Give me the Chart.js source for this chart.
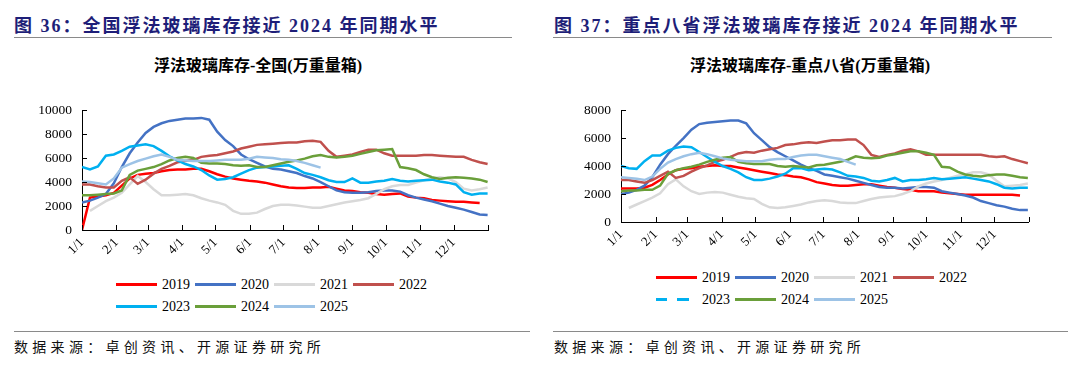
<!DOCTYPE html>
<html>
<head>
<meta charset="utf-8">
<script src="https://cdn.jsdelivr.net/npm/chart.js@4.4.1/dist/chart.umd.min.js"></script>
<style>
  html, body { margin: 0; padding: 0; background: #fff; }
  body { width: 1080px; height: 366px; position: relative; overflow: hidden; }
  .hd { position: absolute; top: 11px; font: bold 18px "Liberation Serif", "Noto Sans CJK SC", serif; color: #1e1e78; letter-spacing: 2px; white-space: nowrap; }
  .rule { position: absolute; height: 0; border-top: 1.5px solid #8a8a8a; }
  .ct { position: absolute; top: 52px; width: 420px; text-align: center; font: bold 16px "Liberation Serif", "Noto Sans CJK SC", serif; color: #000; white-space: nowrap; }
  .src { position: absolute; top: 336px; font: 14px "Noto Sans CJK SC", sans-serif; letter-spacing: 4.3px; color: #111; white-space: nowrap; }
  .box { position: absolute; top: 92px; }
  .legend { position: absolute; width: 330px; font: 14px "Liberation Serif", serif; color: #000; }
  .legend .item { position: absolute; height: 18px; line-height: 18px; }
  .legend .swatch { position: absolute; left: 0; top: 7px; width: 41px; height: 3px; }
  .legend .lab { position: absolute; left: 46px; top: 0; }
</style>
</head>
<body>
<div class="hd" style="left:14px">图 36：全国浮法玻璃库存接近 2024 年同期水平</div>
<div class="rule" style="left:14px;top:37px;width:498px"></div>
<div class="ct" style="left:48px">浮法玻璃库存-全国(万重量箱)</div>
<div class="box" style="left:0px"><canvas id="c36" width="505" height="175"></canvas></div>
<div class="legend" id="lg36" style="left:116px;top:276px"></div>
<div class="rule" style="left:14px;top:331px;width:516px"></div>
<div class="src" style="left:14px">数据来源：卓创资讯、开源证券研究所</div>

<div class="hd" style="left:554px">图 37：重点八省浮法玻璃库存接近 2024 年同期水平</div>
<div class="rule" style="left:553px;top:37px;width:499px"></div>
<div class="ct" style="left:600px">浮法玻璃库存-重点八省(万重量箱)</div>
<div class="box" style="left:540px"><canvas id="c37" width="505" height="175"></canvas></div>
<div class="legend" id="lg37" style="left:656px;top:269px"></div>
<div class="rule" style="left:553px;top:331px;width:515px"></div>
<div class="src" style="left:554px">数据来源：卓创资讯、开源证券研究所</div>

<script>
// weekly stock, 万重量箱, week 0 = first week of January
const years = ['2019', '2020', '2021', '2022', '2023', '2024', '2025'];
const colors = ['#ff0000', '#4472c4', '#d9d9d9', '#c0504d', '#00b0f0', '#6a9f3a', '#9dc3e6'];
const monthStarts = [0, 31, 59, 90, 120, 151, 181, 212, 243, 273, 304, 334, 365];
const monthLabels = ['1/1', '2/1', '3/1', '4/1', '5/1', '6/1', '7/1', '8/1', '9/1', '10/1', '11/1', '12/1', ''];

// 全国
const nat2019 = [0,2700,2800,2900,3100,3700,4300,4600,4700,4750,4900,5000,5050,5050,5100,5100,4900,4650,4450,4300,4200,4100,4050,3950,3800,3650,3550,3500,3500,3550,3550,3600,3450,3300,3250,3150,3100,3000,2950,3000,3050,2800,2700,2650,2500,2450,2400,2350,2350,2300,2250];
const nat2020 = [2300,2450,2700,3000,3900,5250,6400,7300,8100,8600,8900,9100,9200,9300,9300,9350,9200,8200,7500,7000,6300,5900,5600,5300,5100,5050,4900,4750,4500,4300,4000,3650,3300,3150,3100,3100,3150,3250,3300,3300,3200,2900,2700,2550,2400,2200,2000,1850,1700,1500,1300,1250];
const nat2021 = [null,1600,2000,2400,2700,3100,3800,4500,4000,3400,2900,2900,2950,3000,2900,2650,2450,2300,2100,1600,1350,1350,1450,1750,2000,2100,2100,2050,1950,1850,1850,2000,2150,2300,2400,2500,2650,3000,3400,3650,3750,3750,3950,4150,4300,4400,4300,4000,3450,3300,3400,3550];
const nat2022 = [3800,3800,3650,3550,3550,4100,4400,3850,4200,4700,5100,5350,5650,5750,5850,6100,6200,6250,6400,6550,6800,6950,7100,7150,7200,7250,7300,7300,7400,7450,7350,6600,6100,6200,6300,6500,6700,6700,6400,6200,6200,6200,6200,6250,6250,6200,6150,6100,6100,5850,5650,5500];
const nat2023 = [5250,5050,5300,6200,6300,6600,6950,7050,7150,7000,6600,6150,5800,5500,5300,5000,4550,4200,4250,4400,4700,5000,5200,5250,5300,5350,5400,5100,4750,4600,4400,4150,4000,4000,4300,3950,3950,4050,4100,4250,4100,4050,4100,4150,4200,4050,3950,3800,3150,2950,3050,3050];
const nat2024 = [2900,2900,2950,3000,3050,3300,4600,4950,5100,5250,5500,5800,6000,6100,6000,5600,5550,5550,5500,5400,5350,5400,5250,5250,5400,5550,5700,5800,5950,6150,6250,6100,6050,6100,6200,6350,6500,6650,6700,6750,5250,5150,5000,4650,4400,4250,4350,4400,4350,4300,4200,4000];
const nat2025 = [4050,4000,3900,3800,4300,5200,5500,5750,5950,6150,6300,6100,5850,5800,5750,5750,5750,5800,5850,5850,5850,5950,6100,6050,6000,5900,5850,5750,5600,5400,5200];

// 重点八省
const prv2019 = [2400,2400,2400,2450,2650,3000,3400,3700,3800,3850,3950,4000,4050,4000,4000,3900,3800,3700,3600,3500,3400,3350,3250,3200,3050,2850,2750,2650,2600,2600,2650,2700,2700,2600,2500,2450,2350,2300,2200,2200,2200,2100,2050,2000,1950,1950,1950,1950,1950,1950,1950,1900];
const prv2020 = [2000,2100,2300,2600,3200,4100,4850,5450,6000,6600,7000,7100,7150,7200,7250,7250,7050,6350,5850,5350,5000,4700,4400,4100,3850,3650,3400,3300,3200,3100,2950,2800,2650,2500,2450,2450,2400,2450,2500,2500,2450,2200,2100,2000,1900,1750,1500,1350,1200,1100,950,850,850];
const prv2021 = [null,1000,1250,1500,1750,2050,2700,3050,2550,2200,2000,2100,2150,2100,1950,1800,1700,1650,1300,1050,1000,1050,1150,1250,1400,1500,1550,1500,1400,1350,1350,1500,1650,1750,1800,1850,2000,2200,2550,2750,2900,3000,3150,3300,3400,3550,3550,3400,2950,2550,2600,2650,2750];
const prv2022 = [3000,3000,2900,2800,3000,3300,3600,3150,3300,3600,3850,4050,4300,4450,4650,4900,5000,4950,5100,5200,5300,5500,5550,5650,5700,5650,5750,5850,5850,5900,5900,5500,4800,4650,4800,4900,5100,5200,5050,4800,4800,4800,4800,4800,4800,4800,4800,4700,4650,4700,4500,4350,4200];
const prv2023 = [4000,3850,3800,4350,4750,4750,5100,5300,5400,5350,5000,4650,4300,4000,3800,3550,3200,3000,3000,3100,3250,3450,3850,3850,3700,3750,3800,3750,3550,3300,3250,3150,2950,2900,3000,3150,2900,3000,3000,3050,3150,3050,3100,3150,3200,3100,3000,2900,2700,2450,2400,2450,2450];
const prv2024 = [2200,2250,2250,2300,2300,2600,3450,3700,3850,3950,4100,4300,4450,4600,4650,4300,4200,4150,4150,4150,4000,3950,4000,3950,3900,4050,4100,4200,4300,4450,4700,4600,4550,4600,4750,4850,4950,5050,5050,4950,4800,3950,3900,3600,3400,3300,3250,3350,3400,3400,3300,3200,3150];
const prv2025 = [3200,3150,3100,3000,3250,3800,4250,4500,4700,4850,4950,4850,4700,4550,4450,4400,4350,4350,4350,4450,4500,4500,4650,4750,4800,4800,4700,4600,4500,4300,4100];

const serif = '"Liberation Serif", "Times New Roman", serif';

// ticks drawn on the inner side of both axes
const innerTicks = {
  id: 'innerTicks',
  afterDraw(chart) {
    const { ctx, chartArea: a, scales: { x, y } } = chart;
    ctx.save();
    ctx.strokeStyle = '#000';
    ctx.lineWidth = 1;
    ctx.beginPath();
    x.ticks.forEach((t) => {
      const px = Math.round(x.getPixelForValue(t.value)) + 0.5;
      ctx.moveTo(px, a.bottom);
      ctx.lineTo(px, a.bottom - 5);
    });
    y.ticks.forEach((t) => {
      const py = Math.round(y.getPixelForValue(t.value)) + 0.5;
      ctx.moveTo(a.left, py);
      ctx.lineTo(a.left + 5, py);
    });
    ctx.stroke();
    ctx.restore();
  }
};

function weekly(values, step) {
  return values.map((v, i) => ({ x: i * step, y: v }));
}

function buildChart(id, series, step, yMax, yWidth, xHeight, padRight) {
  const datasets = series.map((vals, i) => ({
    label: years[i],
    data: weekly(vals, step),
    borderColor: colors[i],
    backgroundColor: colors[i],
    borderWidth: 2.5,
    pointRadius: 0,
    tension: 0,
    spanGaps: false,
    order: series.length - i
  }));
  return new Chart(document.getElementById(id), {
    type: 'line',
    data: { datasets },
    options: {
      responsive: false,
      animation: false,
      devicePixelRatio: 1,
      layout: { padding: { top: 10, right: padRight, bottom: 0, left: 0 } },
      plugins: { legend: { display: false }, tooltip: { enabled: false } },
      scales: {
        x: {
          type: 'linear', min: 0, max: 365,
          afterBuildTicks: (axis) => { axis.ticks = monthStarts.map((v) => ({ value: v })); },
          afterFit: (s) => { s.height = xHeight; },
          grid: { drawOnChartArea: false, drawTicks: false },
          border: { display: true, color: '#000', width: 1 },
          ticks: {
            autoSkip: false, maxRotation: 45, minRotation: 45, padding: 5,
            color: '#000', font: { family: serif, size: 13 },
            callback: (v, idx) => monthLabels[idx]
          }
        },
        y: {
          min: 0, max: yMax,
          afterFit: (s) => { s.width = yWidth; },
          grid: { drawOnChartArea: false, drawTicks: false },
          border: { display: true, color: '#000', width: 1 },
          ticks: {
            stepSize: 2000, padding: 10, color: '#000', font: { family: serif, size: 13.5 },
            callback: (v) => String(v)
          }
        }
      }
    },
    plugins: [innerTicks]
  });
}

function buildLegend(id, dashedIndex) {
  const el = document.getElementById(id);
  years.forEach((yr, i) => {
    const item = document.createElement('div');
    item.className = 'item';
    item.style.left = (i % 4) * 79 + 'px';
    item.style.top = Math.floor(i / 4) * 22 + 'px';
    const sw = document.createElement('div');
    sw.className = 'swatch';
    sw.style.background = i === dashedIndex
      ? `linear-gradient(to right, ${colors[i]} 0 11px, transparent 11px 21px, ${colors[i]} 21px 33px, transparent 33px)`
      : colors[i];
    const lab = document.createElement('div');
    lab.className = 'lab';
    lab.textContent = yr;
    item.appendChild(sw);
    item.appendChild(lab);
    el.appendChild(item);
  });
}

buildChart('c36', [nat2019, nat2020, nat2021, nat2022, nat2023, nat2024, nat2025], 7.15, 10000, 82, 37, 17);
buildChart('c37', [prv2019, prv2020, prv2021, prv2022, prv2023, prv2024, prv2025], 7, 8000, 81, 45, 13);
buildLegend('lg36', -1);
buildLegend('lg37', 4);
</script>
</body>
</html>
